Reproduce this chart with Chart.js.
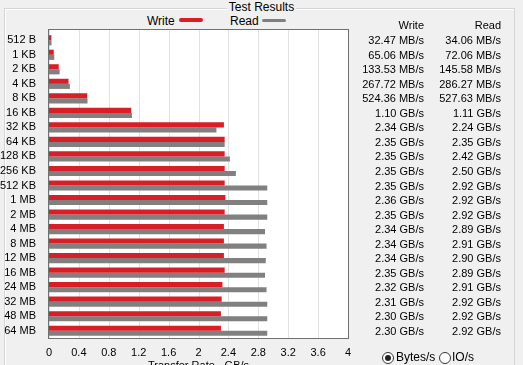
<!DOCTYPE html>
<html>
<head>
<meta charset="utf-8">
<script src="https://cdn.jsdelivr.net/npm/chart.js@4/dist/chart.umd.min.js"></script>
<style>
    html, body { margin: 0; padding: 0; width: 523px; height: 365px; overflow: hidden; background: #f0f0f0;
        font: 11px "Liberation Sans", Arial, sans-serif; color: #000; }
    #wrap { position: relative; width: 523px; height: 365px; }
    #group { position: absolute; left: 4px; top: 8px; width: 509px; height: 400px; border: 1px solid #d5d5d5;
        box-shadow: inset 1px 1px 0 #fff; }
    #groupTitle { position: absolute; left: 0; width: 523px; top: 0; text-align: center; line-height: 14px; font-size: 12px; }
    #groupTitle span { background: #f0f0f0; padding: 0 2px; }
    canvas { position: absolute; left: 0; top: 0; }
    .leg { position: absolute; top: 14px; line-height: 14px; font-size: 12px; }
    .sw { position: absolute; top: 18px; height: 4px; width: 24px; border-radius: 2px; }
    .cell { position: absolute; text-align: right; white-space: nowrap; line-height: 14px; width: 80px; }
    .radio { position: absolute; top: 352px; width: 10px; height: 10px; border: 1px solid #333; border-radius: 50%; background: #fff; }
    .radio.on::after { content: ''; position: absolute; left: 2px; top: 2px; width: 6px; height: 6px; border-radius: 50%; background: #222; }
    .rlab { position: absolute; top: 350px; line-height: 14px; font-size: 12px; }
</style>
</head>
<body>
<div id="wrap">
    <div id="group"></div>
    <div id="groupTitle"><span>Test Results</span></div>
    <div class="leg" style="left:147px">Write</div>
    <div class="sw" id="swWrite" style="left:179px"></div>
    <div class="leg" style="left:230px">Read</div>
    <div class="sw" id="swRead" style="left:262px; height:3px; top:19px"></div>
    <canvas id="myCanvas" width="523" height="375"></canvas>
    <div id="table"></div>
    <div class="radio on" style="left:382px"></div>
    <div class="rlab" style="left:396px">Bytes/s</div>
    <div class="radio" style="left:439px"></div>
    <div class="rlab" style="left:452px">IO/s</div>
</div>
<script>
const sizes = ['512 B', '1 KB', '2 KB', '4 KB', '8 KB', '16 KB', '32 KB', '64 KB', '128 KB', '256 KB', '512 KB',
    '1 MB', '2 MB', '4 MB', '8 MB', '12 MB', '16 MB', '24 MB', '32 MB', '48 MB', '64 MB'];

// GB/s (MB/s values divided by 1024)
const writeRate = [0.0317, 0.0635, 0.1304, 0.2614, 0.5121, 1.10, 2.34, 2.35, 2.35, 2.35, 2.35,
    2.36, 2.35, 2.34, 2.34, 2.34, 2.35, 2.32, 2.31, 2.30, 2.30];
const readRate = [0.0333, 0.0704, 0.1422, 0.2796, 0.5153, 1.11, 2.24, 2.35, 2.42, 2.50, 2.92,
    2.92, 2.92, 2.89, 2.91, 2.90, 2.89, 2.91, 2.92, 2.92, 2.92];

const writeText = ['32.47 MB/s', '65.06 MB/s', '133.53 MB/s', '267.72 MB/s', '524.36 MB/s', '1.10 GB/s',
    '2.34 GB/s', '2.35 GB/s', '2.35 GB/s', '2.35 GB/s', '2.35 GB/s', '2.36 GB/s', '2.35 GB/s', '2.34 GB/s',
    '2.34 GB/s', '2.34 GB/s', '2.35 GB/s', '2.32 GB/s', '2.31 GB/s', '2.30 GB/s', '2.30 GB/s'];
const readText = ['34.06 MB/s', '72.06 MB/s', '145.58 MB/s', '286.27 MB/s', '527.63 MB/s', '1.11 GB/s',
    '2.24 GB/s', '2.35 GB/s', '2.42 GB/s', '2.50 GB/s', '2.92 GB/s', '2.92 GB/s', '2.92 GB/s', '2.89 GB/s',
    '2.91 GB/s', '2.90 GB/s', '2.89 GB/s', '2.91 GB/s', '2.92 GB/s', '2.92 GB/s', '2.92 GB/s'];

const rateTicks = [0, 0.4, 0.8, 1.2, 1.6, 2, 2.4, 2.8, 3.2, 3.6, 4];

const writeColor = '#d81e26';
const readColor = '#808080';
const font = { family: '"Liberation Sans", Arial, sans-serif', size: 11 };

document.getElementById('swWrite').style.background = writeColor;
document.getElementById('swRead').style.background = readColor;

const plotFrame = {
    id: 'plotFrame',
    beforeDatasetsDraw(chart) {
        const { ctx, chartArea: a, scales: { x } } = chart;
        const top = a.top - 4;
        ctx.save();
        ctx.fillStyle = '#fff';
        ctx.fillRect(a.left, top, a.right - a.left, a.bottom - top);
        ctx.strokeStyle = '#e2e2e2';
        ctx.lineWidth = 1;
        rateTicks.forEach(v => {
            const px = Math.round(x.getPixelForValue(v)) + 0.5;
            ctx.beginPath();
            ctx.moveTo(px, top);
            ctx.lineTo(px, a.bottom);
            ctx.stroke();
        });
        ctx.restore();
    },
    afterDatasetsDraw(chart) {
        const { ctx, chartArea: a } = chart;
        const top = a.top - 4;
        ctx.save();
        ctx.strokeStyle = '#707070';
        ctx.lineWidth = 1;
        ctx.strokeRect(Math.round(a.left) - 0.5, Math.round(top) + 0.5,
            Math.round(a.right - a.left) + 1, Math.round(a.bottom - top));
        ctx.restore();
    }
};

const resultTable = {
    id: 'resultTable',
    afterLayout(chart) {
        const table = document.getElementById('table');
        table.innerHTML = '';
        const y = chart.scales.y;
        function cell(text, right, cy) {
            const d = document.createElement('div');
            d.className = 'cell';
            d.innerText = text;
            d.style.left = (right - 80) + 'px';
            d.style.top = Math.round(cy - 7) + 'px';
            table.appendChild(d);
        }
        cell('Write', 424, 25);
        cell('Read', 501, 25);
        sizes.forEach((s, i) => {
            const cy = y.getPixelForValue(i);
            cell(writeText[i], 424, cy);
            cell(readText[i], 501, cy);
        });
    }
};

new Chart(document.getElementById('myCanvas'), {
    type: 'bar',
    data: {
        labels: sizes,
        datasets: [
            { label: 'Write', data: writeRate, backgroundColor: writeColor },
            { label: 'Read', data: readRate, backgroundColor: readColor }
        ]
    },
    options: {
        indexAxis: 'y',
        responsive: false,
        animation: false,
        maintainAspectRatio: false,
        layout: { padding: { top: 33, right: 175, bottom: 0, left: 0 } },
        datasets: { bar: { categoryPercentage: 0.7, barPercentage: 1.0 } },
        plugins: { legend: { display: false }, title: { display: false }, tooltip: { enabled: false } },
        scales: {
            x: {
                type: 'linear',
                min: 0,
                max: 4,
                grid: { display: false },
                border: { display: false },
                afterBuildTicks: s => { s.ticks = rateTicks.map(v => ({ value: v })); },
                afterFit: s => { s.height = 37; },
                ticks: {
                    font: font, color: '#000', padding: 0, maxRotation: 0, autoSkip: false,
                    callback: v => String(Number(v.toFixed(1)))
                },
                title: { display: true, text: 'Transfer Rate - GB/s', font: font, color: '#000', padding: { top: 0, bottom: 2 } }
            },
            y: {
                grid: { display: false },
                border: { display: false },
                afterFit: s => { s.width = 49; },
                ticks: { font: font, color: '#000', padding: 5, autoSkip: false }
            }
        }
    },
    plugins: [plotFrame, resultTable]
});
</script>
</body>
</html>
